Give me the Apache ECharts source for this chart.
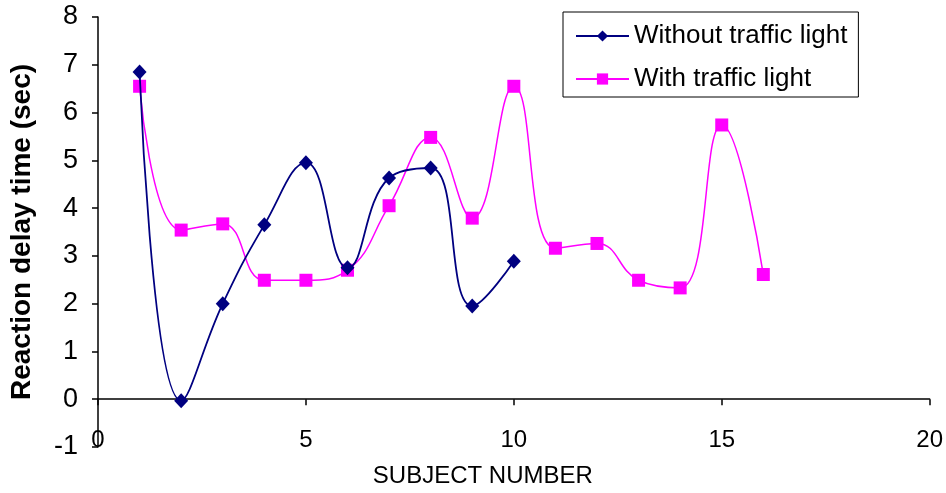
<!DOCTYPE html>
<html>
<head>
<meta charset="utf-8">
<script src="https://cdn.jsdelivr.net/npm/echarts@6/dist/echarts.min.js"></script>
<style>
html,body{margin:0;padding:0;background:#fff;}
#chart{width:946px;height:493px;}
</style>
</head>
<body>
<div id="chart"></div>
<script>
var subjectsWithout = [1, 2, 3, 4, 5, 6, 7, 8, 9, 10];
var valuesWithout = [6.85, -0.03, 2.0, 3.65, 4.95, 2.75, 4.63, 4.84, 1.95, 2.89];
var subjectsWith = [1, 2, 3, 4, 5, 6, 7, 8, 9, 10, 11, 12, 13, 14, 15, 16];
var valuesWith = [6.55, 3.54, 3.67, 2.49, 2.49, 2.70, 4.05, 5.48, 3.79, 6.55, 3.16, 3.26, 2.49, 2.33, 5.74, 2.61];
var seriesNames = ['Without traffic light', 'With traffic light'];
var xTicks = [0, 5, 10, 15, 20];
var yTicks = [-1, 0, 1, 2, 3, 4, 5, 6, 7, 8];

function pairs(xs, ys) { return xs.map(function (x, i) { return [x, ys[i]]; }); }

var font = 'Liberation Sans, Arial, sans-serif';
var chart = echarts.init(document.getElementById('chart'), null, {renderer: 'canvas'});
chart.setOption({
  backgroundColor: '#fff',
  animation: false,
  grid: {left: 98, right: 16, top: 17, bottom: 46, containLabel: false},
  legend: {
    orient: 'vertical',
    left: 563, top: 12,
    padding: [9, 11, 3, 12],
    borderColor: '#000', borderWidth: 1,
    itemWidth: 53, itemHeight: 14, itemGap: 13,
    textStyle: {fontFamily: font, fontSize: 26, color: '#000', lineHeight: 30},
    data: seriesNames
  },
  xAxis: [
    {
      type: 'value', min: xTicks[0], max: xTicks[xTicks.length - 1], interval: 5,
      position: 'bottom',
      axisLine: {show: false, onZero: false},
      axisTick: {show: false},
      splitLine: {show: false},
      axisLabel: {margin: -19, fontFamily: font, fontSize: 24, color: '#000'},
      name: 'SUBJECT NUMBER', nameLocation: 'middle', nameGap: 17,
      nameTextStyle: {fontFamily: font, fontSize: 24, color: '#000', padding: [0, 62, 0, 0]}
    },
    {
      type: 'value', min: xTicks[0], max: xTicks[xTicks.length - 1], interval: 5,
      position: 'bottom',
      axisLine: {show: true, onZero: true, lineStyle: {color: '#000', width: 1.5}},
      axisTick: {show: true, length: 6, lineStyle: {color: '#000', width: 1.5}},
      splitLine: {show: false},
      axisLabel: {show: false}
    }
  ],
  yAxis: {
    type: 'value', min: yTicks[0], max: yTicks[yTicks.length - 1], interval: 1,
    axisLine: {show: true, onZero: false, lineStyle: {color: '#000', width: 1.5}},
    axisTick: {show: true, length: 6, lineStyle: {color: '#000', width: 1.5}},
    splitLine: {show: false},
    axisLabel: {margin: 20, fontFamily: font, fontSize: 27, color: '#000'},
    name: 'Reaction delay time (sec)', nameLocation: 'middle', nameGap: 62,
    nameTextStyle: {fontFamily: font, fontSize: 28, fontWeight: 'bold', color: '#000'}
  },
  series: [
    {
      name: seriesNames[0], type: 'line', xAxisIndex: 0,
      data: pairs(subjectsWithout, valuesWithout),
      smooth: 0.45,
      symbol: 'diamond', symbolSize: [14, 15],
      lineStyle: {color: '#000080', width: 1.8},
      itemStyle: {color: '#000080'},
      z: 3
    },
    {
      name: seriesNames[1], type: 'line', xAxisIndex: 0,
      data: pairs(subjectsWith, valuesWith),
      smooth: 0.45,
      symbol: 'rect', symbolSize: 13,
      lineStyle: {color: '#FF00FF', width: 1.5},
      itemStyle: {color: '#FF00FF'},
      z: 2
    }
  ]
});
</script>
</body>
</html>
